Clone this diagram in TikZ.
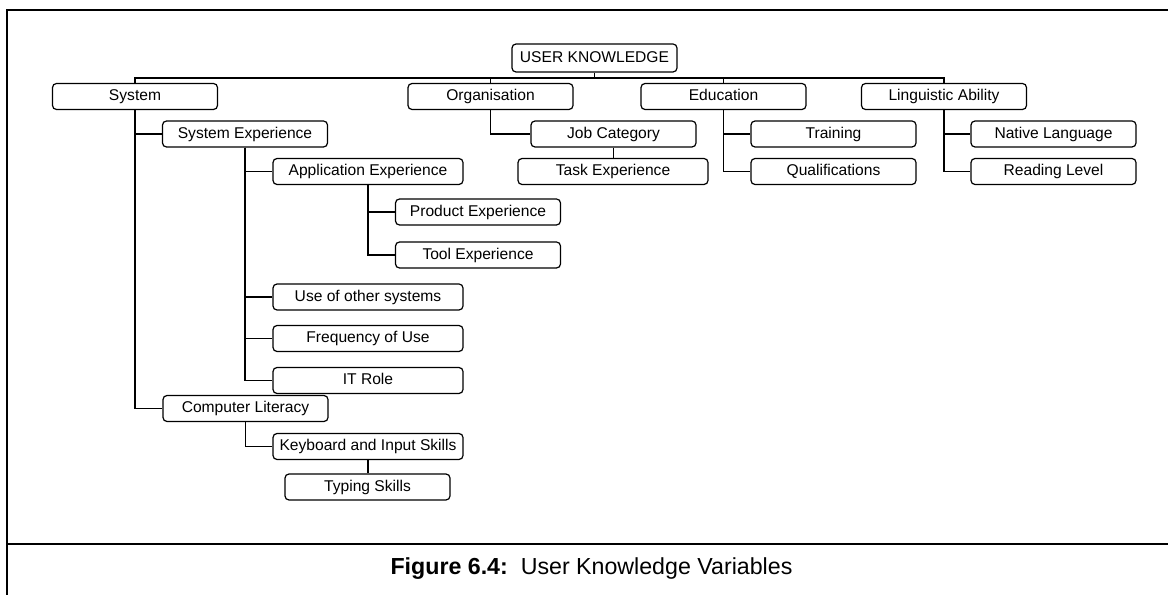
\documentclass[tikz,border=0pt]{standalone}
\usepackage{fontspec}
\setmainfont{Liberation Sans}
\begin{document}
\begin{tikzpicture}[x=0.75pt,y=0.75pt,yscale=-1,xscale=1,
    var/.style={draw,rounded corners=3pt,line width=0.9pt,minimum width=123.75pt,minimum height=19.5pt,inner sep=0pt,text height=8.6pt,text depth=2.4pt,font=\fontsize{11.7}{14}\selectfont},
    varwide/.style={var,minimum width=142.5pt},
    link/.style={line width=1pt}]
\useasboundingbox (0,0) rectangle (1168,595);

%Frame
\draw [line width=2pt] (7,610) -- (7,10) -- (1180,10) ;
\draw [line width=2pt] (7,544) -- (1180,544) ;

% Top
\node [var,minimum height=21pt] (uk) at (594.5,58) {USER KNOWLEDGE};
\node [var] (sys) at (135,96.5) {System};
\node [var] (org) at (490.5,96.5) {Organisation};
\node [var] (edu) at (723.5,96.5) {Education};
\node [var] (ling) at (944,96.5) {Linguistic Ability};

% System branch
\node [var] (sysexp) at (245,134) {System Experience};
\node [varwide] (appexp) at (368,171.5) {Application Experience};
\node [var] (prodexp) at (478,212) {Product Experience};
\node [var] (toolexp) at (478,255) {Tool Experience};
\node [varwide] (othersys) at (368,297) {Use of other systems};
\node [varwide] (freq) at (368,338.5) {Frequency of Use};
\node [varwide] (itrole) at (368,380.5) {IT Role};
\node [var] (complit) at (245.5,408.5) {Computer Literacy};
\node [varwide] (keyb) at (368,446.5) {Keyboard and Input Skills};
\node [var] (typing) at (367.5,487) {Typing Skills};

% Organisation branch
\node [var] (jobcat) at (613.5,134) {Job Category};
\node [varwide] (taskexp) at (613,171.5) {Task Experience};

% Education branch
\node [var] (training) at (833.5,134) {Training};
\node [var] (qualif) at (833.5,171.5) {Qualifications};

% Linguistic branch
\node [var] (native) at (1053.5,134) {Native Language};
\node [var] (reading) at (1053.5,171.5) {Reading Level};

%Connectors
\coordinate (bus) at (594.5,78);
\draw [link] (uk.south) -- (bus) ;
\draw [link] (sys.north) |- (bus) -| (ling.north) ;
\draw [link] (org.north) -- (org.north |- bus) ;
\draw [link] (edu.north) -- (edu.north |- bus) ;

\draw [link] (sys.south) |- (sysexp.west) ;
\draw [link] (sys.south) |- (complit.west) ;
\draw [link] (sysexp.south) |- (appexp.west) ;
\draw [link] (sysexp.south) |- (othersys.west) ;
\draw [link] (sysexp.south) |- (freq.west) ;
\draw [link] (sysexp.south) |- (itrole.west) ;
\draw [link] (appexp.south) |- (prodexp.west) ;
\draw [link] (appexp.south) |- (toolexp.west) ;
\draw [link] (complit.south) |- (keyb.west) ;
\draw [link] (keyb.south) -- (keyb.south |- typing.north) ;

\draw [link] (org.south) |- (jobcat.west) ;
\draw [link] (jobcat.south) -- (jobcat.south |- taskexp.north) ;

\draw [link] (edu.south) |- (training.west) ;
\draw [link] (edu.south) |- (qualif.west) ;

\draw [link] (ling.south) |- (native.west) ;
\draw [link] (ling.south) |- (reading.west) ;

% Caption
\node [font=\fontsize{17.4}{20}\selectfont,inner sep=0pt] (caption) at (591.5,569) {\textbf{Figure 6.4:}\ \ User Knowledge Variables};
\end{tikzpicture}
\end{document}
